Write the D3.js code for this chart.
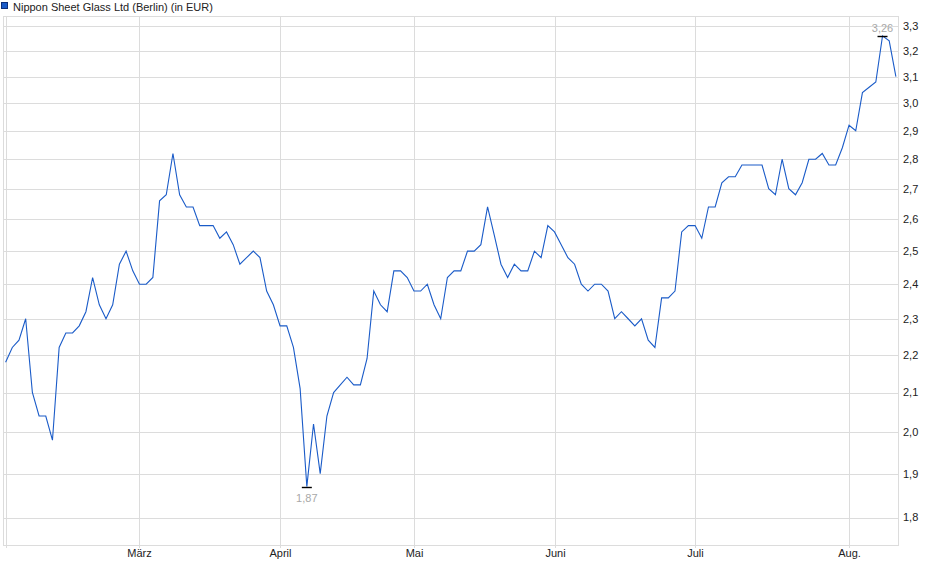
<!DOCTYPE html>
<html>
<head>
<meta charset="utf-8">
<script src="https://cdn.jsdelivr.net/npm/d3@7/dist/d3.min.js"></script>
<style>
  html, body { margin: 0; padding: 0; background: #fff; }
  svg { display: block; font-family: "Liberation Sans", Arial, sans-serif; }
</style>
</head>
<body>
<svg id="chart" width="940" height="579"></svg>
<script>
// ---- data (trading-day index based) ----
const title = "Nippon Sheet Glass Ltd (Berlin) (in EUR)";
const prices = [
  2.18, 2.22, 2.24, 2.30, 2.10, 2.04, 2.04, 1.98, 2.22, 2.26,
  2.26, 2.28, 2.32, 2.42, 2.34, 2.30, 2.34, 2.46, 2.50, 2.44,
  2.40, 2.40, 2.42, 2.66, 2.68, 2.82, 2.68, 2.64, 2.64, 2.58,
  2.58, 2.58, 2.54, 2.56, 2.52, 2.46, 2.48, 2.50, 2.48, 2.38,
  2.34, 2.28, 2.28, 2.22, 2.11, 1.87, 2.02, 1.90, 2.04, 2.10,
  2.12, 2.14, 2.12, 2.12, 2.19, 2.38, 2.34, 2.32, 2.44, 2.44,
  2.42, 2.38, 2.38, 2.40, 2.34, 2.30, 2.42, 2.44, 2.44, 2.50,
  2.50, 2.52, 2.64, 2.55, 2.46, 2.42, 2.46, 2.44, 2.44, 2.50,
  2.48, 2.58, 2.56, 2.52, 2.48, 2.46, 2.40, 2.38, 2.40, 2.40,
  2.38, 2.30, 2.32, 2.30, 2.28, 2.30, 2.24, 2.22, 2.36, 2.36,
  2.38, 2.56, 2.58, 2.58, 2.54, 2.64, 2.64, 2.72, 2.74, 2.74,
  2.78, 2.78, 2.78, 2.78, 2.70, 2.68, 2.80, 2.70, 2.68, 2.72,
  2.80, 2.80, 2.82, 2.78, 2.78, 2.84, 2.92, 2.90, 3.04, 3.06,
  3.08, 3.26, 3.24, 3.10
];
const monthTickIndex = [0, 20, 41, 61, 82, 103, 126];
const monthLabels = ["", "März", "April", "Mai", "Juni", "Juli", "Aug."];
const yTicks = [1.8, 1.9, 2.0, 2.1, 2.2, 2.3, 2.4, 2.5, 2.6, 2.7, 2.8, 2.9, 3.0, 3.1, 3.2, 3.3];
const yDomain = [1.74, 3.341];

// ---- layout ----
const plot = { left: 3, right: 898, top: 16, bottom: 545 };
const svg = d3.select("#chart");

const x = d3.scaleLinear().domain([0, prices.length - 1]).range([5.6, 895.9]);
const y = d3.scaleLog().domain(yDomain).range([plot.bottom, plot.top]);
const fmt = v => d3.format(".1f")(v).replace(".", ",");
const fmt2 = v => d3.format(".2f")(v).replace(".", ",");
const gridColor = "#dcdcdc";

// horizontal grid
svg.append("g").selectAll("line").data(yTicks).join("line")
  .attr("x1", plot.left).attr("x2", plot.right)
  .attr("y1", d => Math.round(y(d)) + 0.5).attr("y2", d => Math.round(y(d)) + 0.5)
  .attr("stroke", gridColor).attr("stroke-width", 1);

// vertical grid (month starts)
svg.append("g").selectAll("line").data(monthTickIndex).join("line")
  .attr("x1", d => Math.round(x(d)) + 0.5).attr("x2", d => Math.round(x(d)) + 0.5)
  .attr("y1", plot.top).attr("y2", plot.bottom + 3)
  .attr("stroke", gridColor).attr("stroke-width", 1);

// frame
const frame = svg.append("g").attr("stroke", gridColor).attr("stroke-width", 1).attr("fill", "none");
frame.append("line").attr("x1", plot.left + 0.5).attr("x2", plot.left + 0.5).attr("y1", plot.top).attr("y2", plot.bottom);
frame.append("line").attr("x1", plot.right + 0.5).attr("x2", plot.right + 0.5).attr("y1", plot.top).attr("y2", plot.bottom + 0.5);
frame.append("line").attr("x1", plot.left).attr("x2", plot.right + 1).attr("y1", plot.bottom + 0.5).attr("y2", plot.bottom + 0.5);
frame.append("line").attr("x1", plot.left).attr("x2", plot.right + 1).attr("y1", plot.top + 0.5).attr("y2", plot.top + 0.5);

// y labels (right)
svg.append("g").selectAll("text").data(yTicks).join("text")
  .attr("x", 903).attr("y", d => y(d)).attr("dy", "0.35em")
  .attr("font-size", 11).attr("fill", "#222")
  .text(d => fmt(d));

// month labels
svg.append("g").selectAll("text").data(monthTickIndex).join("text")
  .attr("x", d => Math.round(x(d)) + 0.5).attr("y", 557)
  .attr("text-anchor", "middle").attr("font-size", 11).attr("fill", "#222")
  .text((d, i) => monthLabels[i]);

// price line
const line = d3.line().x((d, i) => x(i)).y(d => y(d));
svg.append("path").datum(prices)
  .attr("d", line).attr("fill", "none")
  .attr("stroke", "#1a5bc8").attr("stroke-width", 1.1)
  .attr("stroke-linejoin", "miter");

// high / low markers
const hiIdx = d3.maxIndex(prices), loIdx = d3.minIndex(prices);
const markers = svg.append("g");
[[hiIdx, -5], [loIdx, 14]].forEach(([i, dy]) => {
  const cx = x(i), cy = Math.round(y(prices[i])) + 0.5;
  markers.append("line").attr("x1", cx - 5).attr("x2", cx + 5)
    .attr("y1", cy).attr("y2", cy).attr("stroke", "#000").attr("stroke-width", 1.4);
  markers.append("text").attr("x", cx).attr("y", cy + dy)
    .attr("text-anchor", "middle").attr("font-size", 11).attr("fill", "#a8a8a8")
    .text(fmt2(prices[i]));
});

// title / legend
svg.append("rect").attr("x", 1.5).attr("y", 2.5).attr("width", 6).attr("height", 6)
  .attr("fill", "#1a5bc8").attr("stroke", "#0d2f7a").attr("stroke-width", 1);
svg.append("text").attr("x", 13).attr("y", 11).attr("font-size", 11).attr("fill", "#222")
  .text(title);
</script>
</body>
</html>
